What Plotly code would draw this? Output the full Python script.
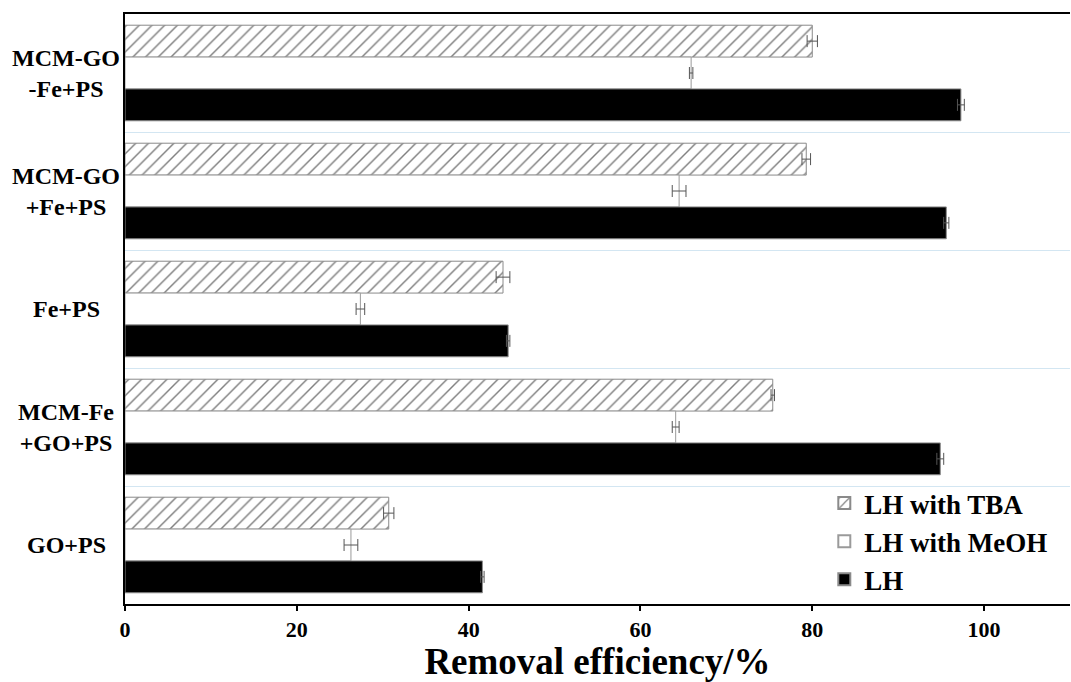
import plotly.graph_objects as go

categories = ["MCM-GO-Fe+PS", "MCM-GO+Fe+PS", "Fe+PS", "MCM-Fe+GO+PS", "GO+PS"]
category_labels = ["MCM-GO<br>-Fe+PS", "MCM-GO<br>+Fe+PS", "Fe+PS", "MCM-Fe<br>+GO+PS", "GO+PS"]

tba_values = [80.0, 79.3, 44.0, 75.4, 30.7]
tba_errors = [0.6, 0.5, 0.8, 0.2, 0.6]
meoh_values = [65.9, 64.5, 27.4, 64.1, 26.3]
meoh_errors = [0.2, 0.8, 0.5, 0.4, 0.8]
lh_values = [97.3, 95.6, 44.6, 94.9, 41.6]
lh_errors = [0.4, 0.3, 0.2, 0.4, 0.2]

x_ticks = [0, 20, 40, 60, 80, 100]

FONT = "'Liberation Serif', 'Times New Roman', serif"
err_style = dict(type="data", color="#555555", thickness=1, width=6)

fig = go.Figure()
fig.add_trace(go.Bar(
    name="LH with TBA", y=categories, x=tba_values, orientation="h",
    error_x=dict(array=tba_errors, **err_style),
    marker=dict(color="white", line=dict(color="#8a8a8a", width=1),
                pattern=dict(shape="/", fgcolor="black", bgcolor="white", size=9, solidity=0.16)),
))
fig.add_trace(go.Bar(
    name="LH with MeOH", y=categories, x=meoh_values, orientation="h",
    error_x=dict(array=meoh_errors, **err_style),
    marker=dict(color="white", line=dict(color="#9a9a9a", width=1)),
))
fig.add_trace(go.Bar(
    name="LH", y=categories, x=lh_values, orientation="h",
    error_x=dict(array=lh_errors, **err_style),
    marker=dict(color="black", line=dict(color="#8a8a8a", width=1)),
))

for cat, lab in zip(categories, category_labels):
    fig.add_annotation(
        x=-0.0624, xref="paper", y=cat, yref="y", text="<b>" + lab + "</b>", showarrow=False,
        xanchor="center", yanchor="middle", align="center",
        font=dict(family=FONT, size=24, color="black"),
    )

fig.update_layout(
    width=1071, height=682,
    margin=dict(l=125, r=1, t=14, b=78),
    paper_bgcolor="white", plot_bgcolor="white",
    barmode="group", bargap=0.19, bargroupgap=0,
    font=dict(family=FONT, color="black"),
    legend=dict(
        x=0.74, y=0.0, xanchor="left", yanchor="bottom",
        font=dict(family=FONT, size=27, color="black", weight="bold"),
        bgcolor="rgba(255,255,255,0)", itemsizing="constant",
        traceorder="normal", tracegroupgap=0,
    ),
    xaxis=dict(
        range=[0, 110], tickvals=x_ticks, showgrid=False, zeroline=False,
        showline=True, linecolor="black", linewidth=2, mirror=True,
        ticks="outside", ticklen=5, tickwidth=2, tickcolor="black",
        tickfont=dict(family=FONT, size=22, color="black", weight="bold"),
        title=dict(text="<b>Removal efficiency/%</b>", standoff=14,
                   font=dict(family=FONT, size=37, color="black")),
    ),
    yaxis=dict(
        autorange="reversed", showticklabels=False, ticks="",
        tickson="boundaries", showgrid=True, gridcolor="#d3e6f2", gridwidth=1,
        showline=True, linecolor="black", linewidth=2, zeroline=False,
    ),
)

fig.write_html("out.html")
